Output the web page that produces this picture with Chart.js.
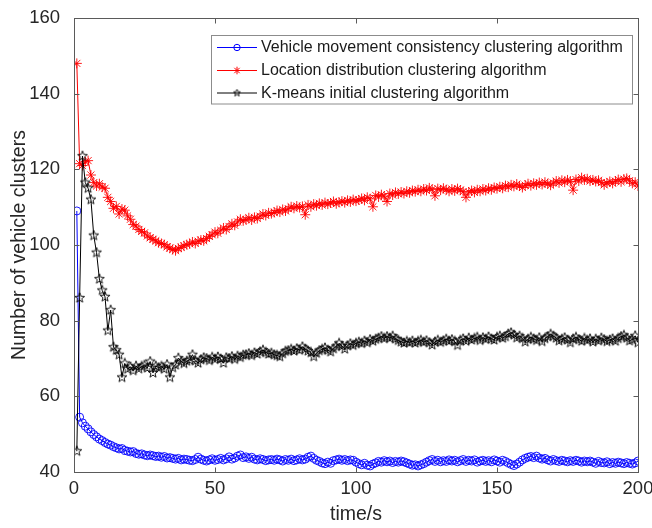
<!DOCTYPE html>
<html><head><meta charset="utf-8">
<script src="https://cdn.jsdelivr.net/npm/chart.js@4/dist/chart.umd.min.js"></script>
<style>html,body{margin:0;padding:0;background:#fff}</style>
</head><body>
<canvas id="c" width="652" height="528" style="display:block;width:652px;height:528px"></canvas>
<script>
const times = Array.from({length: 200}, (_, i) => i + 1);
const seriesNames = [
  'Vehicle movement consistency clustering algorithm',
  'Location distribution clustering algorithm',
  'K-means initial clustering algorithm'
];
const xTickValues = [0, 50, 100, 150, 200];
const yTickValues = [40, 60, 80, 100, 120, 140, 160];
const xTitle = 'time/s';
const yTitle = 'Number of vehicle clusters';

const vehicleMovement = [
109,54.5,53,52.1,51.4,50.6,49.9,49.3,48.7,48.3,
47.8,47.4,47.1,46.7,46.4,46.1,46.2,45.7,45.5,45.3,
45.4,44.9,44.7,44.8,44.5,44.3,44.5,44.3,44.1,44.2,
43.9,44.1,43.7,43.8,43.6,43.4,43.6,43.2,43.4,43.3,
43.1,43.0,43.3,43.9,43.4,43.1,42.9,43.2,43.5,43.1,
43.3,43.6,43.2,43.5,44.0,43.4,43.7,44.2,44.5,43.8,
44.0,43.6,43.9,43.4,43.2,43.5,43.3,43.0,43.2,43.3,
43.1,43.4,43.2,42.9,43.3,43.1,43.4,43.0,43.2,43.5,
43.2,43.4,43.9,44.2,43.6,43.1,42.8,42.4,42.2,42.6,
42.3,43.0,43.2,43.4,43.1,43.3,43.0,43.2,43.1,42.6,
42.2,41.9,42.3,41.8,41.6,42.1,42.4,42.8,42.6,43.0,
42.7,42.9,42.5,42.8,42.6,42.9,42.7,42.4,42.1,41.8,
41.9,41.6,41.9,42.2,42.6,43.0,43.3,42.8,43.1,42.7,
43.0,42.8,43.2,42.9,43.1,42.7,43.0,43.3,42.8,43.1,
42.9,43.2,42.6,42.9,43.1,42.8,43.0,42.7,43.2,42.9,
42.6,43.1,42.8,42.4,42.0,41.7,42.1,42.6,43.2,43.6,
43.9,44.1,43.8,44.2,43.7,43.4,43.6,43.2,42.9,43.3,
43.0,42.8,43.1,42.9,42.7,43.0,42.8,43.1,42.9,42.6,
42.9,42.7,42.9,42.6,42.3,42.8,42.5,42.4,42.7,42.2,
42.5,42.3,42.6,42.4,42.2,42.5,42.3,42.1,42.4,42.9
];
const locationDistribution = [
148,121.5,121,122,122.3,118.5,116.5,115.6,116.2,115.3,
115,112.6,111.5,109.7,110.2,108.2,109.5,109.2,107.7,106.8,
105.4,105,104.1,103.6,103.2,102.4,101.9,101.5,101.1,100.6,
100.4,100.1,99.5,99.2,98.8,98.5,99.1,99.4,99.8,100.1,
100.3,100.8,100.4,101,101.3,101.1,101.7,102.3,102.7,103.4,
103.1,103.9,104.5,104.1,104.9,105.6,105.2,106.1,106.8,106.4,
106.7,107.2,106.6,107.3,107,107.6,108.2,107.8,108.5,108.3,
108.6,109.1,108.7,109.4,109,109.6,110.1,109.7,110.3,109.9,
110.2,108,110.6,110.1,110.8,110.4,111,110.6,111.2,110.8,
111.1,111.5,110.9,111.3,111.6,111.2,111.8,111.4,112,111.6,
111.9,112.3,111.8,112.6,112.2,110.1,113.1,112.7,113.3,112.9,
111.5,113.6,113.2,113.9,113.5,114,113.6,114.2,113.8,114.4,
114.1,114.6,114.2,114.8,114.4,115.1,114.7,113,114.9,114.5,
115,114.6,114.2,114.8,114.3,114.9,114.5,114.1,112.6,114,
114.4,113.9,114.6,114.2,114.8,114.4,115,114.6,115.2,114.9,
115.4,115,115.7,115.3,115.9,115.5,116.1,115.6,115.2,115.8,
116.2,115.7,116.3,115.9,116.5,116,116.6,116.2,115.8,116.4,
116.9,116.4,117.1,116.6,117.2,116.8,114.5,117.3,116.9,117.8,
117.2,117.5,116.9,117.2,116.8,117.1,116.5,115.9,116.4,116.8,
116.3,116.9,117.3,116.7,117.4,117.6,117,116.3,116.6,115.6
];
const kMeansInitial = [
45.5,86,123.5,116.5,115,112,102.5,98,91,88,
86.3,77.4,82.8,73,72.2,71,65,68.7,67.2,67.8,
66.8,68,67.3,67.9,68.2,67.5,69.2,66.2,68,67.6,
67.9,67.2,68.4,65,67.6,68.3,70.1,69.2,68.7,69.3,
69.6,71,69.4,68.8,69.7,70.2,70,69.5,70.3,69.8,
70.4,69.9,68.8,70.2,70,70.5,69.8,70.6,70.3,70.9,
71,71.3,70.8,71.5,71.2,71.8,72.2,71.6,71.2,71.4,
71,70.8,70.5,71.3,71.9,72.1,72.4,72,72.6,72.2,
73.1,72.5,72,71.6,70.5,71.4,72.1,72.4,72.8,72.2,
71.8,72.6,73.2,74,73.3,72.5,73.4,73.9,73.5,74,
74.3,74,74.6,74.2,75,74.6,75.1,75.4,75.8,75.3,
75.8,75.4,75.9,75.2,74.8,74.4,74.1,74.5,74.2,74.6,
74.1,74.5,74.8,74.3,74.7,74.2,73.6,74.4,74.8,74.3,
74.7,75.1,74.6,75,74.5,73.5,74.8,75.2,74.6,75.4,
74.9,75.3,75.6,74.8,75.5,75.1,75.7,75.2,74.9,75.6,
75.9,75.4,75.8,76.5,76.8,76.2,75.5,75.9,75.3,74.4,
75.1,75.6,75.2,74.8,75.5,74.5,75.3,75.8,76.4,75.9,
75.4,74.7,75.1,75.5,74.9,74.2,75.2,75.6,75,74.6,
75.3,74.8,75.2,74.4,75.1,74.7,75.4,75,74.5,74.9,
75.2,74.6,75.3,75.8,76.1,75.4,74.7,75,76,74.2
];

const FONT = "'Liberation Sans', Arial, sans-serif";

function makePentagram(size, color) {
  const c = document.createElement('canvas');
  c.width = size; c.height = size;
  const g = c.getContext('2d');
  const cx = size / 2, cy = size / 2, R = size / 2 - 0.8, r = R * 0.42;
  g.beginPath();
  for (let i = 0; i < 10; i++) {
    const a = -Math.PI / 2 + i * Math.PI / 5;
    const rad = i % 2 === 0 ? R : r;
    const x = cx + rad * Math.cos(a), y = cy + rad * Math.sin(a);
    if (i === 0) g.moveTo(x, y); else g.lineTo(x, y);
  }
  g.closePath();
  g.strokeStyle = color; g.lineWidth = 0.9; g.stroke();
  return c;
}
const starImg = makePentagram(12, '#000');
const starImgSmall = makePentagram(9, '#000');

const toPts = arr => arr.map((v, i) => ({x: times[i], y: v}));

const colors = ['#0000ff', '#ff0000', '#000000'];

const boxPlugin = {
  id: 'matlabBox',
  afterDatasetsDraw(chart) {
    const {ctx, chartArea: a, scales: {x, y}} = chart;
    ctx.save();
    ctx.strokeStyle = '#5a5a5a';
    ctx.lineWidth = 1;
    const L = Math.round(a.left) + 0.5, R = Math.round(a.right) + 0.5;
    const T = Math.round(a.top) + 0.5, B = Math.round(a.bottom) + 0.5;
    ctx.strokeRect(L, T, R - L, B - T);
    ctx.beginPath();
    xTickValues.forEach(v => {
      const px = Math.round(x.getPixelForValue(v)) + 0.5;
      ctx.moveTo(px, B); ctx.lineTo(px, B - 5);
      ctx.moveTo(px, T); ctx.lineTo(px, T + 5);
    });
    yTickValues.forEach(v => {
      const py = Math.round(y.getPixelForValue(v)) + 0.5;
      ctx.moveTo(L, py); ctx.lineTo(L + 5, py);
      ctx.moveTo(R, py); ctx.lineTo(R - 5, py);
    });
    ctx.stroke();
    ctx.restore();
  },
  afterDraw(chart) {
    const {ctx} = chart;
    ctx.save();
    const bx = 211.5, by = 35.5, bw = 421, bh = 68.5;
    ctx.fillStyle = '#fff';
    ctx.fillRect(bx, by, bw, bh);
    ctx.strokeStyle = '#8c8c8c';
    ctx.lineWidth = 1;
    ctx.strokeRect(bx, by, bw, bh);
    const rows = [47, 70, 92.5];
    ctx.font = '16px ' + FONT;
    ctx.textBaseline = 'middle';
    rows.forEach((ry, i) => {
      ctx.strokeStyle = colors[i];
      ctx.lineWidth = 1;
      ctx.beginPath();
      ctx.moveTo(217, ry + 0.5); ctx.lineTo(257, ry + 0.5);
      ctx.stroke();
      const mx = 237, my = ry + 0.5;
      if (i === 0) {
        ctx.beginPath(); ctx.arc(mx, my, 3.2, 0, Math.PI * 2); ctx.stroke();
      } else if (i === 1) {
        ctx.beginPath();
        const r = 3.8;
        ctx.moveTo(mx - r, my); ctx.lineTo(mx + r, my);
        ctx.moveTo(mx, my - r); ctx.lineTo(mx, my + r);
        const d = r * 0.707;
        ctx.moveTo(mx - d, my - d); ctx.lineTo(mx + d, my + d);
        ctx.moveTo(mx - d, my + d); ctx.lineTo(mx + d, my - d);
        ctx.stroke();
      } else {
        ctx.drawImage(starImgSmall, mx - 4.5, my - 4.5);
      }
      ctx.fillStyle = '#1a1a1a';
      ctx.fillText(seriesNames[i], 261, ry + 1);
    });
    ctx.restore();
  }
};

new Chart(document.getElementById('c'), {
  type: 'line',
  data: {
    datasets: [
      {label: seriesNames[0], data: toPts(vehicleMovement), borderColor: colors[0], backgroundColor: 'rgba(0,0,0,0)',
       borderWidth: 1, pointStyle: 'circle', pointRadius: 4, pointBorderWidth: 0.9, pointBorderColor: colors[0], order: 3},
      {label: seriesNames[1], data: toPts(locationDistribution), borderColor: colors[1], backgroundColor: 'rgba(0,0,0,0)',
       borderWidth: 1, pointStyle: 'star', pointRadius: 5, pointBorderWidth: 0.9, pointBorderColor: colors[1], order: 2},
      {label: seriesNames[2], data: toPts(kMeansInitial), borderColor: colors[2], backgroundColor: 'rgba(0,0,0,0)',
       borderWidth: 1, pointStyle: starImg, pointRadius: 5, order: 1}
    ]
  },
  options: {
    responsive: false,
    animation: false,
    devicePixelRatio: 1,
    layout: {padding: {top: 18, right: 14, left: 0, bottom: 0}},
    elements: {line: {tension: 0}},
    plugins: {legend: {display: false}, tooltip: {enabled: false}},
    scales: {
      x: {
        type: 'linear', min: 0, max: 200,
        afterBuildTicks: s => { s.ticks = xTickValues.map(v => ({value: v})); },
        afterFit: s => { s.height = 56; s.paddingLeft = 0; s.paddingRight = 0; },
        grid: {display: false, drawTicks: false},
        border: {display: false},
        ticks: {font: {family: FONT, size: 18.5}, color: '#262626', padding: 6, maxRotation: 0},
        title: {display: true, text: xTitle, font: {family: FONT, size: 19.5}, color: '#262626', padding: {top: 0, bottom: 2}}
      },
      y: {
        type: 'linear', min: 40, max: 160,
        afterBuildTicks: s => { s.ticks = yTickValues.map(v => ({value: v})); },
        afterFit: s => { s.width = 74; s.paddingTop = 0; s.paddingBottom = 0; },
        grid: {display: false, drawTicks: false},
        border: {display: false},
        ticks: {font: {family: FONT, size: 18.5}, color: '#262626', padding: 14},
        title: {display: true, text: yTitle, font: {family: FONT, size: 19.5}, color: '#262626', padding: {top: 8, bottom: 0}}
      }
    }
  },
  plugins: [boxPlugin]
});
</script>
</body></html>
